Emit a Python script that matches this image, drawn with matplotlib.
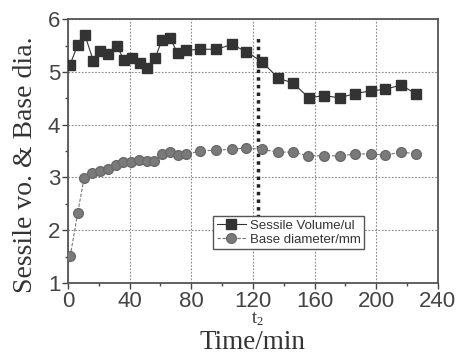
import numpy as np
import matplotlib
matplotlib.use('Agg')
import matplotlib.pyplot as plt
from matplotlib.ticker import MultipleLocator

# sessile volume (ul)
t_vol = [1.3, 6.3, 11, 16.5, 20.8, 26.2, 31.7, 36.6, 41.4, 46.8, 51.2, 56.6,
         60.9, 66.3, 71.1, 76.7, 85.9, 96.3, 106.5, 115.8, 126, 136.5, 146,
         156.3, 166, 176.3, 186.2, 196.4, 205.7, 215.9, 225.7]
volume = [5.13, 5.51, 5.70, 5.21, 5.40, 5.34, 5.49, 5.22, 5.27, 5.17, 5.08, 5.26,
          5.60, 5.65, 5.35, 5.41, 5.43, 5.43, 5.52, 5.38, 5.19, 4.88, 4.79,
          4.51, 4.55, 4.51, 4.59, 4.64, 4.67, 4.75, 4.59]

# base diameter (mm)
t_dia = [1.5, 6.3, 10.4, 15.8, 20.8, 25.8, 31.2, 36, 41, 46.2, 51.2, 56.1,
         60.9, 65.9, 71.1, 76.7, 85.9, 96.3, 106.5, 115.8, 126, 136.5, 146,
         155.9, 166, 176.3, 186.2, 196.4, 205.7, 215.9, 225.7]
diameter = [1.51, 2.32, 2.98, 3.09, 3.13, 3.16, 3.23, 3.29, 3.30, 3.33, 3.32, 3.32,
            3.44, 3.48, 3.42, 3.44, 3.50, 3.52, 3.53, 3.56, 3.53, 3.48, 3.48,
            3.41, 3.41, 3.41, 3.44, 3.45, 3.42, 3.48, 3.45]

t2 = 123
t2_span = [1.95, 5.7]

fig = plt.figure(figsize=(4.59, 3.55), dpi=100)
ax = fig.add_axes([0.148, 0.203, 0.806, 0.743])

ax.grid(True, which='major', color='#888888', linestyle=(0, (1.5, 1.5)), linewidth=0.8)
ax.set_axisbelow(True)

ax.plot([t2, t2], t2_span, color='#222222', linestyle=(0, (1, 1.2)), linewidth=2.5, zorder=2)

ax.plot(t_vol, volume, color='#333333', linewidth=0.8, marker='s', markersize=6.5,
        markerfacecolor='#333333', markeredgecolor='#333333', label='Sessile Volume/ul', zorder=3)
ax.plot(t_dia, diameter, color='#777777', linewidth=0.8, linestyle=(0, (3, 1.5)), marker='o',
        markersize=7, markerfacecolor='#7a7a7a', markeredgecolor='#6a6a6a',
        label='Base diameter/mm', zorder=3)

ax.set_xlim(0, 240)
ax.set_ylim(1, 6)
ax.xaxis.set_major_locator(MultipleLocator(40))
ax.xaxis.set_minor_locator(MultipleLocator(20))
ax.yaxis.set_major_locator(MultipleLocator(1))
ax.yaxis.set_minor_locator(MultipleLocator(0.5))
ax.tick_params(which='both', direction='out', top=False, right=False, color='#444444',
               labelsize=16, pad=1.5)
ax.tick_params(which='major', length=4, width=1)
ax.tick_params(which='minor', length=2.5, width=1)
for lab in ax.get_xticklabels() + ax.get_yticklabels():
    lab.set_family('Liberation Sans')
    lab.set_color('#444444')
for s in ax.spines.values():
    s.set_color('#555555')
    s.set_linewidth(1.3)

ax.set_xlabel('Time/min', family='Liberation Serif', fontsize=19.5, color='#333333')
ax.set_ylabel('Sessile vo. & Base dia.', family='Liberation Serif', fontsize=20,
              color='#333333')
ax.xaxis.set_label_coords(0.5, -0.18)
ax.yaxis.set_label_coords(-0.08, 0.447)
ax.text(t2, -0.105, '$\\mathregular{t_2}$', transform=ax.get_xaxis_transform(), ha='center', va='top',
        family='Liberation Serif', fontsize=13, color='#333333')

leg = ax.legend(loc='lower left', bbox_to_anchor=(0.393, 0.128), frameon=True, fancybox=False,
                prop={'family': 'Liberation Sans', 'size': 9.5}, handlelength=2.2,
                borderpad=0.25, labelspacing=0.15, handletextpad=0.3, borderaxespad=0)
leg.get_frame().set_edgecolor('#555555')
leg.get_frame().set_linewidth(1)
leg.get_frame().set_alpha(1)
for txt in leg.get_texts():
    txt.set_color('#333333')

fig.savefig('out.png', dpi=100)
